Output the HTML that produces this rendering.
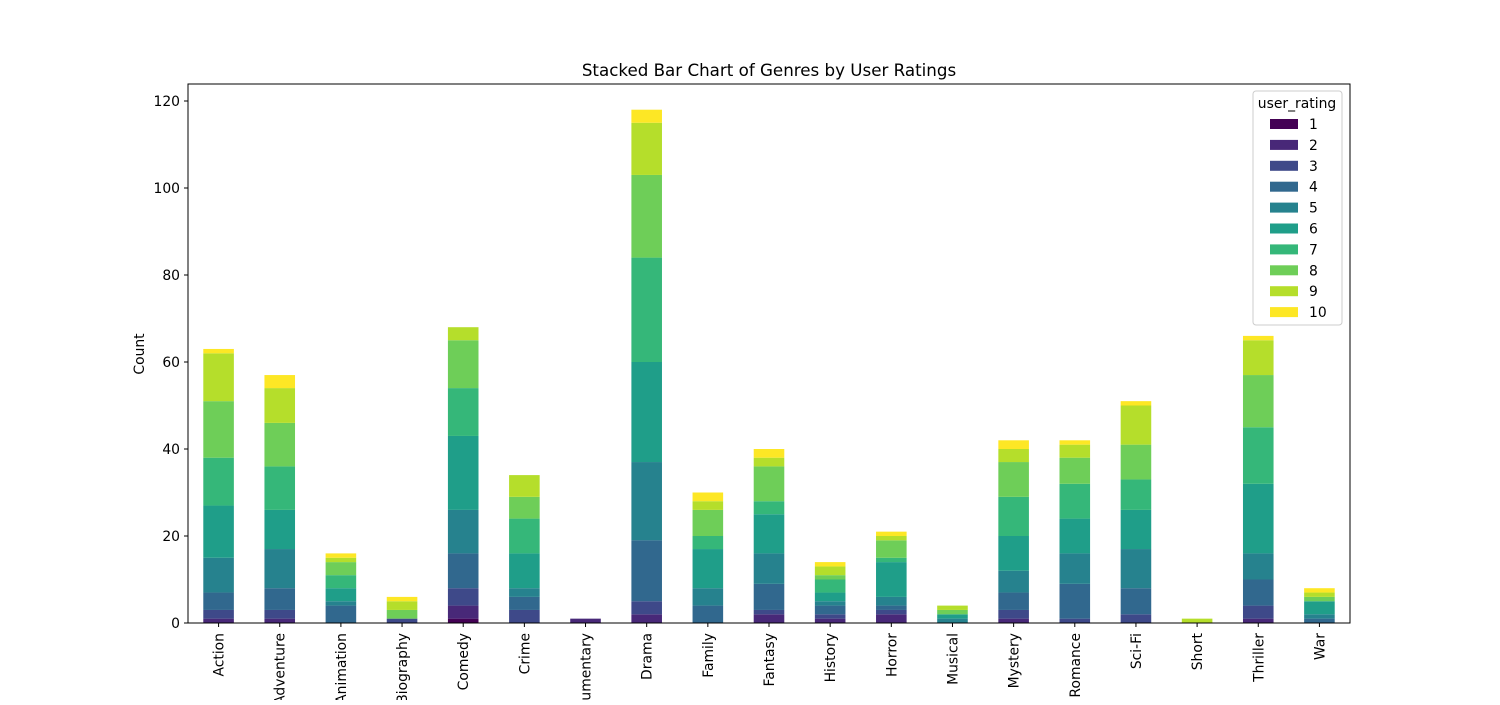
<!DOCTYPE html>
<html><head><meta charset="utf-8"><style>body{margin:0;background:#fff}svg{font-family:"DejaVu Sans","Liberation Sans",sans-serif}</style></head>
<body>
<svg id="chart" width="1500" height="700" viewBox="0 0 1500 700" xmlns="http://www.w3.org/2000/svg">
<rect width="1500" height="700" fill="#fff"/>
<text x="769" y="76" font-size="16.7" text-anchor="middle" fill="#000">Stacked Bar Chart of Genres by User Ratings</text>
<text transform="translate(144,354) rotate(-90)" font-size="13.9" text-anchor="middle" fill="#000">Count</text>
<g id="bars"></g>
<g id="axes"></g>
<g id="legend"></g>
</svg>
<script>
const categories = ["Action","Adventure","Animation","Biography","Comedy","Crime","Documentary","Drama","Family","Fantasy","History","Horror","Musical","Mystery","Romance","Sci-Fi","Short","Thriller","War"];
const ratings = ["1","2","3","4","5","6","7","8","9","10"];
const r1  = [0,0,0,0,1,0,0,0,0,0,0,0,0,0,0,0,0,0,0];
const r2  = [1,1,0,0,3,0,1,2,0,2,1,2,0,1,0,0,0,1,0];
const r3  = [2,2,0,1,4,3,0,3,0,1,1,1,0,2,1,2,0,3,0];
const r4  = [4,5,4,0,8,3,0,14,4,6,2,1,0,4,8,6,0,6,1];
const r5  = [8,9,1,0,10,2,0,18,4,7,1,2,1,5,7,9,0,6,1];
const r6  = [12,9,3,0,17,8,0,23,9,9,2,8,1,8,8,9,0,16,3];
const r7  = [11,10,3,0,11,8,0,24,3,3,3,1,0,9,8,7,0,13,0];
const r8  = [13,10,3,2,11,5,0,19,6,8,1,4,1,8,6,8,0,12,1];
const r9  = [11,8,1,2,3,5,0,12,2,2,2,1,1,3,3,9,1,8,1];
const r10 = [1,3,1,1,0,0,0,3,2,2,1,1,0,2,1,1,0,1,1];
const series = [r1,r2,r3,r4,r5,r6,r7,r8,r9,r10];
const yTicks = [0,20,40,60,80,100,120];
const colors = ["#440154","#482878","#3e4989","#31688e","#26828e","#1f9e89","#35b779","#6ece58","#b5de2b","#fde725"];

const NS="http://www.w3.org/2000/svg";
const L=188,R=1350,T=84,B=623;
const yScale=v=>B-v*(B-101)/120;
const step=(R-L)/categories.length;
const xCenter=i=>L+step*(i+0.5);
const bw=step*0.5;
function mk(tag,attrs,parent){const e=document.createElementNS(NS,tag);for(const k in attrs)e.setAttribute(k,attrs[k]);parent.appendChild(e);return e;}
const gb=document.getElementById('bars');
categories.forEach((c,i)=>{
  let cum=0;
  series.forEach((s,k)=>{
    const v=s[i];
    if(v>0){
      const r=mk('rect',{x:xCenter(i)-bw/2,y:yScale(cum+v),width:bw,height:yScale(cum)-yScale(cum+v),fill:colors[k]},gb);
      
      
    }
    cum+=v;
  });
});
const ga=document.getElementById('axes');
const frame=mk('rect',{x:L,y:T,width:R-L,height:B-T,fill:'none',stroke:'#000','stroke-width':1},ga);


yTicks.forEach(t=>{
  const y=yScale(t);
  mk('line',{x1:L-4,x2:L,y1:y,y2:y,stroke:'#000'},ga);
  const tx=mk('text',{x:L-8,y:y+5,'font-size':13.9,'text-anchor':'end'},ga);
  tx.textContent=t;
  
  
});
categories.forEach((c,i)=>{
  const x=xCenter(i);
  mk('line',{x1:x,x2:x,y1:B,y2:B+4,stroke:'#000'},ga);
  const tx=mk('text',{transform:`translate(${x+5},${B+10}) rotate(-90)`,'font-size':13.9,'text-anchor':'end'},ga);
  tx.textContent=c;
  
  
});
const gl=document.getElementById('legend');
const box=mk('rect',{x:1253,y:91,width:89,height:234,rx:3,fill:'#fff',stroke:'#ccc'},gl);


const lt=mk('text',{x:1297,y:108,'font-size':13.9,'text-anchor':'middle'},gl);
lt.textContent='user_rating';


ratings.forEach((r,k)=>{
  const y=124+k*20.9;
  const p=mk('rect',{x:1270,y:y-5,width:28,height:10,fill:colors[k]},gl);
  
  
  const t=mk('text',{x:1309,y:y+5,'font-size':13.9},gl);
  t.textContent=r;
  
  
});
</script>
</body></html>
